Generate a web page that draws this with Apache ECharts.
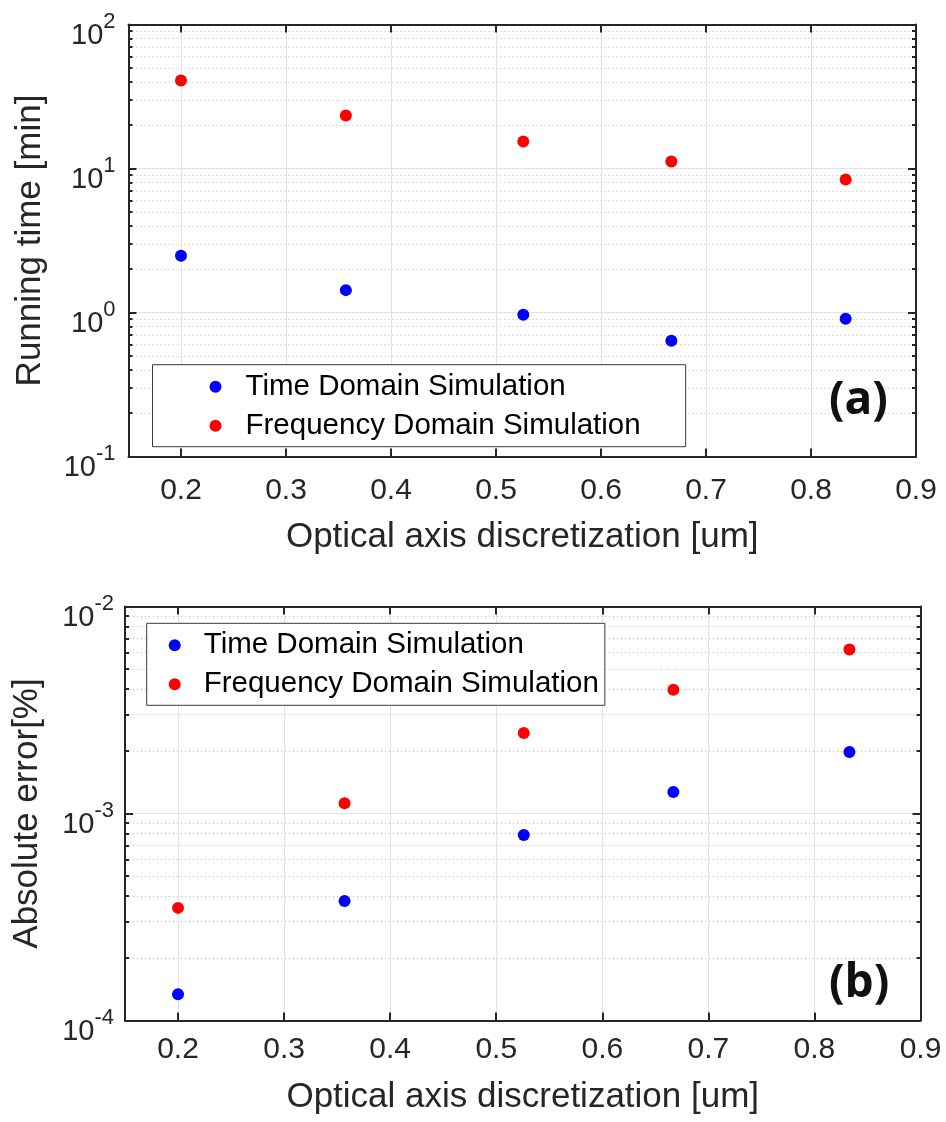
<!DOCTYPE html>
<html><head><meta charset="utf-8">
<script src="https://cdn.jsdelivr.net/npm/echarts@6/dist/echarts.min.js"></script>
<style>html,body{margin:0;padding:0;background:#fff}#c{width:946px;height:1122px}</style>
</head><body><div id="c"></div>
<script>
// ---- data ----
const xValues = [0.2, 0.357, 0.526, 0.667, 0.833];
const runTimeTimeDomain = [2.48, 1.43, 0.966, 0.637, 0.906];
const runTimeFreqDomain = [40.8, 23.3, 15.4, 11.2, 8.4];
const errorTimeDomain = [1.34e-4, 3.78e-4, 7.87e-4, 1.27e-3, 1.98e-3];
const errorFreqDomain = [3.5e-4, 1.12e-3, 2.45e-3, 3.96e-3, 6.2e-3];
const xTickValues = [0.2, 0.3, 0.4, 0.5, 0.6, 0.7, 0.8, 0.9];
const minorTicksA = [0.2,0.3,0.4,0.5,0.6,0.7,0.8,0.9, 2,3,4,5,6,7,8,9, 20,30,40,50,60,70,80,90];
const minorTicksB = [2e-4,3e-4,4e-4,5e-4,6e-4,7e-4,8e-4,9e-4, 2e-3,3e-3,4e-3,5e-3,6e-3,7e-3,8e-3,9e-3];
const seriesNames = ['Time Domain Simulation', 'Frequency Domain Simulation'];
const xTitle = 'Optical axis discretization [um]';
const yTitleA = 'Running time [min]';
const yTitleB = 'Absolute error[%]';
const panelLabels = ['(a)', '(b)'];

// ---- styling ----
const FONT = '"Liberation Sans", Arial, Helvetica, sans-serif';
const AX = '#262626';
const MAJOR_GRID = '#e2e2e2';
const MINOR_GRID = '#bdbdbd';

function pair(xs, ys) { return xs.map((x, i) => [x, ys[i]]); }

function expLabel(v) {
  const e = Math.round(Math.log10(v));
  return '{b|10}{s|' + e + '}';
}

function xAxesFor(g, labelMargin, nameGap) {
  return [
    { gridIndex: g, type: 'value', min: 0.15, max: 0.9, position: 'bottom',
      axisLine: { show: true, lineStyle: { color: AX, width: 2 } },
      axisTick: { show: true, inside: true, length: 8, customValues: xTickValues, lineStyle: { color: AX, width: 2 } },
      axisLabel: { show: true, customValues: xTickValues, formatter: v => v.toFixed(1),
        fontSize: 30, color: AX, fontFamily: FONT, margin: labelMargin },
      splitLine: { show: true, lineStyle: { color: MAJOR_GRID, width: 1 } },
      name: xTitle, nameLocation: 'middle', nameGap: nameGap,
      nameTextStyle: { fontSize: 35, color: AX, fontFamily: FONT } },
    { gridIndex: g, type: 'value', min: 0.15, max: 0.9, position: 'top',
      axisLine: { show: true, lineStyle: { color: AX, width: 2 } },
      axisTick: { show: true, inside: true, length: 8, customValues: xTickValues, lineStyle: { color: AX, width: 2 } },
      axisLabel: { show: false, customValues: xTickValues },
      splitLine: { show: false } }
  ];
}

function yAxesFor(g, yMin, yMax, minors, title, labelMargin, nameGap) {
  const base = { gridIndex: g, type: 'log', logBase: 10, min: yMin, max: yMax };
  return [
    Object.assign({}, base, { position: 'left',
      axisLine: { show: true, lineStyle: { color: AX, width: 2 } },
      axisTick: { show: true, inside: true, length: 8, lineStyle: { color: AX, width: 2 } },
      axisLabel: { show: true, formatter: expLabel, margin: labelMargin, padding: [12, 0, 0, 0],
        rich: {
          b: { fontSize: 29, color: AX, fontFamily: FONT, lineHeight: 40, verticalAlign: 'bottom' },
          s: { fontSize: 22, color: AX, fontFamily: FONT, lineHeight: 20, verticalAlign: 'top' }
        } },
      splitLine: { show: true, lineStyle: { color: MAJOR_GRID, width: 1 } },
      name: title, nameLocation: 'middle', nameRotate: 90, nameGap: nameGap,
      nameTextStyle: { fontSize: 35, color: AX, fontFamily: FONT } }),
    Object.assign({}, base, { position: 'left',
      axisLine: { show: false },
      axisTick: { show: true, inside: true, length: 4, customValues: minors, lineStyle: { color: AX, width: 2 } },
      axisLabel: { show: false, customValues: minors },
      splitLine: { show: true, lineStyle: { color: MINOR_GRID, width: 1, type: [1, 3] } } }),
    Object.assign({}, base, { position: 'right',
      axisLine: { show: true, lineStyle: { color: AX, width: 2 } },
      axisTick: { show: true, inside: true, length: 8, lineStyle: { color: AX, width: 2 } },
      axisLabel: { show: false },
      splitLine: { show: false } }),
    Object.assign({}, base, { position: 'right',
      axisLine: { show: false },
      axisTick: { show: true, inside: true, length: 4, customValues: minors, lineStyle: { color: AX, width: 2 } },
      axisLabel: { show: false, customValues: minors },
      splitLine: { show: false } })
  ];
}

function scatter(name, xi, yi, data, color) {
  return { name: name, type: 'scatter', xAxisIndex: xi, yAxisIndex: yi, data: data,
    symbol: 'circle', symbolSize: 12, itemStyle: { color: color, opacity: 1 }, z: 5 };
}

const chart = echarts.init(document.getElementById('c'), null, { renderer: 'canvas' });

const LEGEND_TEXT = { fontSize: 29.5, color: '#000', fontFamily: FONT, lineHeight: 30 };

const option = {
  backgroundColor: '#ffffff',
  animation: false,
  grid: [
    { left: 128.5, top: 24.5, width: 787.5, height: 432, outerBoundsMode: 'none', containLabel: false },
    { left: 125, top: 606.5, width: 795.5, height: 414, outerBoundsMode: 'none', containLabel: false }
  ],
  xAxis: [].concat(xAxesFor(0, 19, 63), xAxesFor(1, 14, 59)),
  yAxis: [].concat(
    yAxesFor(0, 0.1, 100, minorTicksA, yTitleA, 13, 81),
    yAxesFor(1, 1e-4, 1e-2, minorTicksB, yTitleB, 11, 80)
  ),
  legend: [
    { data: seriesNames, orient: 'vertical', left: 152.5, top: 364.7,
      icon: 'circle', itemWidth: 50, itemHeight: 12, itemGap: 9,
      padding: [7, 45, 6, 57], backgroundColor: '#ffffff', borderColor: '#3a3a3a', borderWidth: 1,
      textStyle: LEGEND_TEXT, selectedMode: false },
    { data: seriesNames, orient: 'vertical', left: 146.7, top: 623.3,
      icon: 'circle', itemWidth: 48, itemHeight: 12, itemGap: 9,
      padding: [7, 6, 6, 22], backgroundColor: '#ffffff', borderColor: '#3a3a3a', borderWidth: 1,
      textStyle: LEGEND_TEXT, selectedMode: false }
  ],
  graphic: [
    { type: 'text', left: 829, top: 378, z: 10,
      style: { text: panelLabels[0], fontSize: 46, fontWeight: 'bold', fontFamily: '"Open Sans", "Noto Sans", sans-serif', fill: '#111' } },
    { type: 'text', left: 829, top: 961, z: 10,
      style: { text: panelLabels[1], fontSize: 46, fontWeight: 'bold', fontFamily: '"Open Sans", "Noto Sans", sans-serif', fill: '#111' } }
  ],
  series: [
    scatter(seriesNames[0], 0, 0, pair(xValues, runTimeTimeDomain), '#0000ff'),
    scatter(seriesNames[1], 0, 0, pair(xValues, runTimeFreqDomain), '#ff0000'),
    scatter(seriesNames[0], 2, 4, pair(xValues, errorTimeDomain), '#0000ff'),
    scatter(seriesNames[1], 2, 4, pair(xValues, errorFreqDomain), '#ff0000')
  ]
};
chart.setOption(option);
</script>
</body></html>
